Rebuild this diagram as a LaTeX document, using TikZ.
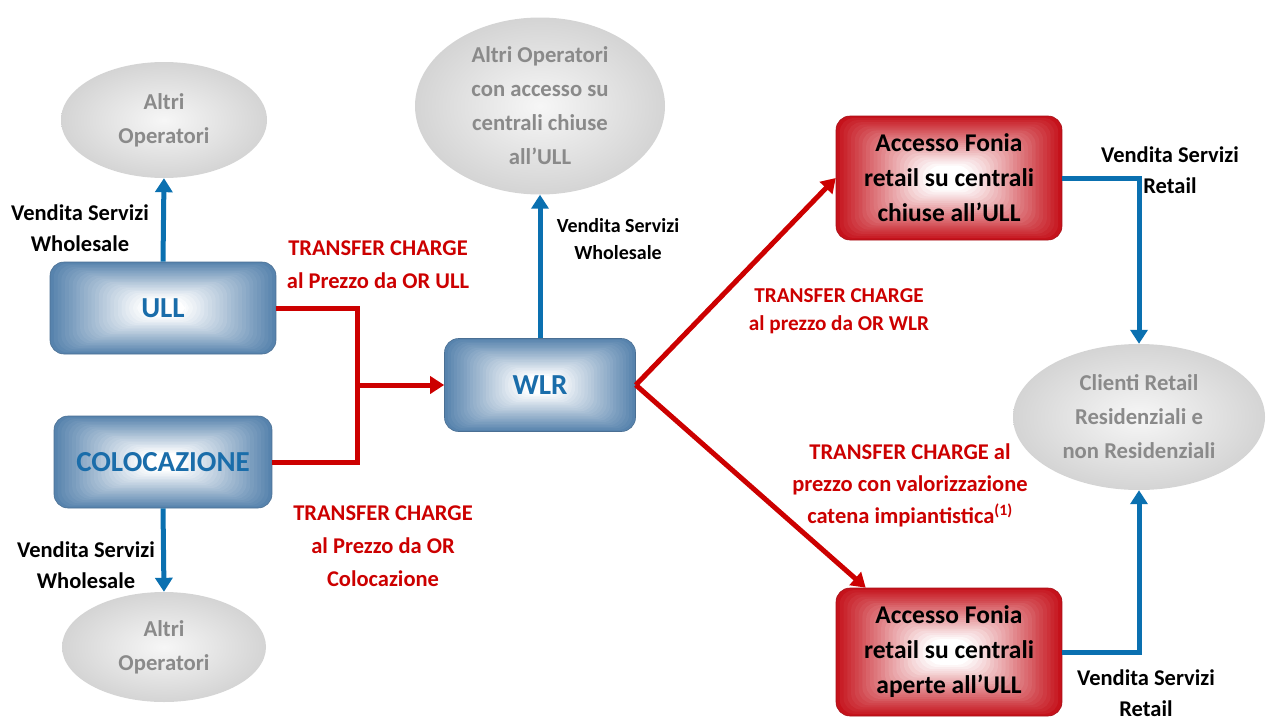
\documentclass[tikz,border=0pt]{standalone}
\usepackage{fontspec}
\setmainfont{Carlito}
\usetikzlibrary{shapes.geometric,arrows.meta,calc}

\definecolor{boxblue}{HTML}{5783AD}
\definecolor{txtblue}{HTML}{1A6DAA}
\definecolor{lineblue}{HTML}{0A70B0}
\definecolor{boxred}{HTML}{C5121B}
\definecolor{linered}{HTML}{CC0000}
\definecolor{ovalgray}{HTML}{D4D4D4}
\definecolor{txtgray}{HTML}{8A8A8A}

\tikzset{
  glow/.style={path picture={
      \foreach \i in {0,...,26}{
        \pgfmathtruncatemacro\amt{max(0,100*(1-\i/24))}
        \fill[#1!\amt!white]
          ($(path picture bounding box.north west)!\i/60!(path picture bounding box.south east)$)
          rectangle
          ($(path picture bounding box.south east)!\i/60!(path picture bounding box.north west)$);
      }}},
  bluebox/.style={rectangle, rounded corners=14pt, draw=boxblue!85!black, line width=0.6pt,
    glow=boxblue, text=txtblue, font=\fontsize{29}{32}\selectfont\bfseries},
  redbox/.style={rectangle, rounded corners=14pt, draw=boxred!85!black, line width=0.6pt,
    glow=boxred, text=black, align=center, minimum width=226, minimum height=124,
    font=\fontsize{25.5}{35}\selectfont\bfseries},
  greyoval/.style={ellipse, shading=radial, inner color=ovalgray!20!white, outer color=ovalgray,
    text=txtgray, align=center, inner sep=0pt, font=\fontsize{22.7}{34}\selectfont\bfseries},
  salelbl/.style={align=center, font=\fontsize{22.5}{31}\selectfont\bfseries},
  redlbl/.style={align=center, text=linered, font=\fontsize{22.5}{33}\selectfont\bfseries},
  blueline/.style={draw=lineblue, line width=5pt},
  redline/.style={draw=linered, line width=5pt},
}

\begin{document}
\begin{tikzpicture}[x=1pt, y=-1pt, >={Triangle[length=14pt,width=17pt]}]
  \useasboundingbox (0,0) rectangle (1266,720);

  % wholesale side
  \node[greyoval, minimum width=206, minimum height=116] (altriull) at (164,120) {Altri\\Operatori};
  \node[bluebox, minimum width=226, minimum height=92] (ull) at (163,308) {ULL};
  \node[bluebox, minimum width=218, minimum height=92] (colo) at (163,462) {COLOCAZIONE};
  \node[greyoval, minimum width=204, minimum height=110] (altricolo) at (164,647) {Altri\\Operatori};
  \node[bluebox, minimum width=191, minimum height=93] (wlr) at (540,385) {WLR};
  \node[greyoval, minimum width=250, minimum height=177] (altriwlr) at (540,106) {Altri Operatori\\con accesso su\\centrali chiuse\\all’ULL};

  % retail side
  \node[redbox] (foniachiuse) at (949,178) {Accesso Fonia\\retail su centrali\\chiuse all’ULL};
  \node[redbox, minimum height=128] (foniaaperte) at (949,652) {Accesso Fonia\\retail su centrali\\aperte all’ULL};
  \node[greyoval, minimum width=252, minimum height=146] (clienti) at (1139,417) {Clienti Retail\\Residenziali e\\non Residenziali};

  % vendita servizi
  \draw[blueline, ->] (ull.north) -- (altriull.south);
  \draw[blueline, ->] (colo.south) -- (altricolo.north);
  \draw[blueline, ->] (wlr.north) -- (altriwlr.south);
  \draw[blueline, ->] (foniachiuse.east) -| (clienti.north);
  \draw[blueline, ->] (foniaaperte.east) -| (clienti.south);

  % transfer charge
  \coordinate (jn) at ($(wlr.west)+(-87,0)$);
  \draw[redline] (ull.east) -| (jn);
  \draw[redline] (colo.east) -| (jn);
  \draw[redline, ->] (jn) -- (wlr.west);
  \draw[redline, ->] (wlr.east) -- (foniachiuse.west);
  \draw[redline, ->] (wlr.east) -- ($(foniaaperte.north west)+(30,0)$);

  % labels
  \node[salelbl] (vsull) at (80,228) {Vendita Servizi\\Wholesale};
  \node[salelbl] (vscolo) at (86,565) {Vendita Servizi\\Wholesale};
  \node[salelbl, font=\fontsize{20}{27}\selectfont\bfseries] (vswlr) at (618,239) {Vendita Servizi\\Wholesale};
  \node[salelbl] (vsret1) at (1170,170) {Vendita Servizi\\Retail};
  \node[salelbl] (vsret2) at (1146,693) {Vendita Servizi\\Retail};
  \node[redlbl] (tcull) at (378,265) {TRANSFER CHARGE\\al Prezzo da OR ULL};
  \node[redlbl] (tccolo) at (383,546) {TRANSFER CHARGE\\al Prezzo da OR\\Colocazione};
  \node[redlbl, font=\fontsize{21.2}{28}\selectfont\bfseries] (tcwlr) at (839,311) {TRANSFER CHARGE\\al prezzo da OR WLR};
  \node[redlbl, font=\fontsize{22.5}{32}\selectfont\bfseries] (tcimp) at (910,485) {TRANSFER CHARGE al\\prezzo con valorizzazione\\catena impiantistica\textsuperscript{(1)}};
\end{tikzpicture}
\end{document}
